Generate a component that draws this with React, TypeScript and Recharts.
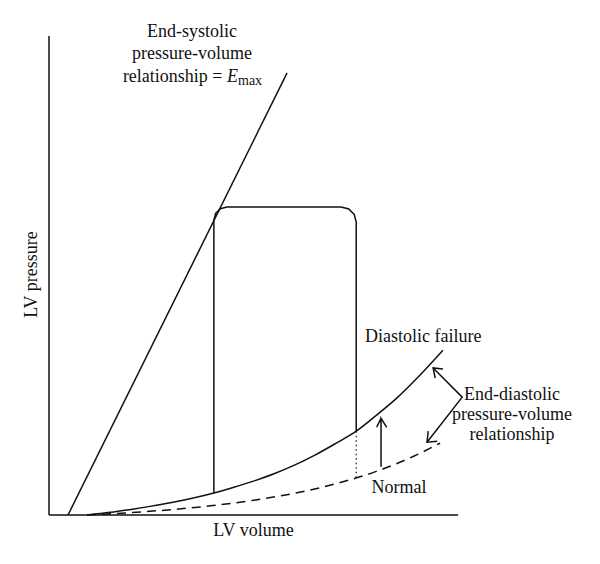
import React from 'react';
import { ComposedChart, Line, XAxis, YAxis, ReferenceLine } from 'recharts';

// Schematic LV pressure-volume diagram (arbitrary units: volume 0-110, pressure 0-100)
const espvr = [
  { v: 4.65, p: 0 },
  { v: 58.2, p: 92.3 },
];

const diastolicFailure = [
  { v: 9.3, p: 0 },
  { v: 15, p: 0.55 },
  { v: 20, p: 1.17 },
  { v: 24.7, p: 1.8 },
  { v: 30, p: 2.6 },
  { v: 35, p: 3.5 },
  { v: 40.3, p: 4.6 },
  { v: 45, p: 5.75 },
  { v: 50, p: 7.08 },
  { v: 55, p: 8.6 },
  { v: 60, p: 10.4 },
  { v: 65, p: 12.5 },
  { v: 70, p: 14.9 },
  { v: 75.1, p: 17.5 },
  { v: 80, p: 20.8 },
  { v: 85, p: 24.4 },
  { v: 90, p: 28.6 },
  { v: 96.3, p: 34.4 },
];

const normalEdpvr = [
  { v: 9.3, p: 0 },
  { v: 20, p: 0.5 },
  { v: 30, p: 1.13 },
  { v: 40, p: 1.96 },
  { v: 50, p: 3.07 },
  { v: 60, p: 4.54 },
  { v: 70, p: 6.5 },
  { v: 80, p: 9.1 },
  { v: 90, p: 12.6 },
  { v: 95.6, p: 15.0 },
];

const pvLoop = [
  { v: 40.3, p: 4.6 },
  { v: 40.3, p: 61.59 },
  { v: 40.73, p: 62.95 },
  { v: 41.89, p: 63.94 },
  { v: 43.48, p: 64.3 },
  { v: 71.43, p: 64.3 },
  { v: 73.27, p: 63.88 },
  { v: 74.61, p: 62.74 },
  { v: 75.1, p: 61.17 },
  { v: 75.1, p: 17.5 },
];

const dottedDrop = [
  { v: 75.1, p: 17.5 },
  { v: 75.1, p: 7.8 },
];

const shiftArrow = [
  { v: 80.1, p: 18.31 },
  { v: 81.16, p: 20.19 },
  { v: 82.55, p: 18.31 },
  { v: 81.16, p: 20.19 },
  { v: 81.16, p: 10.08 },
];

const bracket = [
  { v: 93.9, p: 30.7 },
  { v: 101.0, p: 24.6 },
  { v: 92.4, p: 15.2 },
];

const bracketHeadUpper = [
  { v: 96.3, p: 30.5 },
  { v: 93.9, p: 30.7 },
  { v: 94.4, p: 28.6 },
];

const bracketHeadLower = [
  { v: 94.9, p: 15.4 },
  { v: 92.4, p: 15.2 },
  { v: 92.7, p: 17.5 },
];

const topLabelLines = ['End-systolic', 'pressure-volume', 'relationship = '];
const edpvrLabelLines = ['End-diastolic', 'pressure-volume', 'relationship'];

const INK = '#111';
const FONT = '"Liberation Serif", "Times New Roman", serif';

const common = {
  dataKey: 'p',
  stroke: INK,
  strokeWidth: 1.5,
  dot: false,
  activeDot: false,
  isAnimationActive: false,
  legendType: 'none' as const,
};

export default function App() {
  return (
    <div style={{ position: 'absolute', left: 0, top: 0, width: 600, height: 564, background: '#fff' }}>
      <ComposedChart
        width={600}
        height={564}
        margin={{ top: 36, right: 101, bottom: 49, left: 49 }}
      >
        <XAxis type="number" dataKey="v" domain={[0, 110]} hide />
        <YAxis type="number" domain={[0, 100]} hide />
        <ReferenceLine
          segment={[{ x: 0, y: 0 }, { x: 0, y: 100 }]}
          stroke={INK}
          strokeWidth={1.5}
        />
        <ReferenceLine
          segment={[{ x: 0, y: 0 }, { x: 100, y: 0 }]}
          stroke={INK}
          strokeWidth={1.5}
        />
        <Line {...common} data={espvr} type="linear" />
        <Line {...common} data={normalEdpvr} type="monotone" strokeDasharray="9 6" />
        <Line {...common} data={diastolicFailure} type="monotone" />
        <Line {...common} data={pvLoop} type="linear" />
        <Line {...common} data={dottedDrop} type="linear" strokeWidth={1.2} strokeDasharray="1.5 3" />
        <Line {...common} data={shiftArrow} type="linear" />
        <Line {...common} data={bracket} type="linear" />
        <Line {...common} data={bracketHeadUpper} type="linear" />
        <Line {...common} data={bracketHeadLower} type="linear" />
      </ComposedChart>
      <svg
        width={600}
        height={564}
        style={{ position: 'absolute', left: 0, top: 0, pointerEvents: 'none' }}
      >
        <g fontFamily={FONT} fontSize={18} fill={INK} textAnchor="middle">
          <text x={192} y={36.7}>{topLabelLines[0]}</text>
          <text x={192} y={59.3}>{topLabelLines[1]}</text>
          <text x={192.5} y={81.7}>
            {topLabelLines[2]}
            <tspan fontStyle="italic">E</tspan>
            <tspan fontSize={14} dy={3.5}>max</tspan>
          </text>
          <text x={423.3} y={341.7}>Diastolic failure</text>
          <text x={512} y={400}>{edpvrLabelLines[0]}</text>
          <text x={512} y={420}>{edpvrLabelLines[1]}</text>
          <text x={512} y={440}>{edpvrLabelLines[2]}</text>
          <text x={399} y={493.3}>Normal</text>
          <text x={253.5} y={535.7}>LV volume</text>
          <text transform="translate(37.3,274.5) rotate(-90)">LV pressure</text>
        </g>
      </svg>
    </div>
  );
}
